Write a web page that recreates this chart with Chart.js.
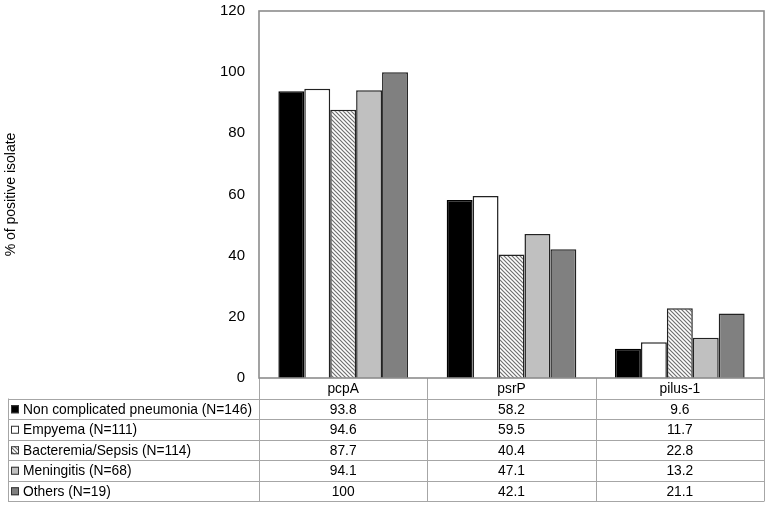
<!DOCTYPE html>
<html>
<head>
<meta charset="utf-8">
<script src="https://cdn.jsdelivr.net/npm/chart.js@4/dist/chart.umd.min.js"></script>
<style>
  html, body { margin: 0; padding: 0; background: #fff; overflow: hidden; }
  #wrap { width: 771px; height: 508px; overflow: hidden; }
  #myChart { margin-top: -12px; display: block; }
</style>
</head>
<body>
<div id="wrap"><canvas id="myChart" width="771" height="520"></canvas></div>
<script>
// data
const categories = ['pcpA', 'psrP', 'pilus-1'];
const seriesNames = [
  'Non complicated pneumonia (N=146)',
  'Empyema (N=111)',
  'Bacteremia/Sepsis (N=114)',
  'Meningitis (N=68)',
  'Others (N=19)',
];
const nonComplicated = [93.8, 58.2, 9.6];
const empyema = [94.6, 59.5, 11.7];
const bacteremia = [87.7, 40.4, 22.8];
const meningitis = [94.1, 47.1, 13.2];
const others = [100, 42.1, 21.1];
const yTicks = [0, 20, 40, 60, 80, 100, 120];

const FONT = '"Liberation Sans", Arial, sans-serif';

function hatchPattern() {
  const c = document.createElement('canvas');
  c.width = 4;
  c.height = 4;
  const g = c.getContext('2d');
  g.fillStyle = '#ffffff';
  g.fillRect(0, 0, 4, 4);
  g.strokeStyle = '#707070';
  g.lineWidth = 1.2;
  g.beginPath();
  g.moveTo(-1, -1);
  g.lineTo(5, 5);
  g.moveTo(-1, 3);
  g.lineTo(1, 5);
  g.moveTo(3, -1);
  g.lineTo(5, 1);
  g.stroke();
  return document.getElementById('myChart').getContext('2d').createPattern(c, 'repeat');
}
const hatch = hatchPattern();

const fills = ['#000000', '#ffffff', hatch, '#c0c0c0', '#808080'];
const allValues = [nonComplicated, empyema, bacteremia, meningitis, others];

// squeezed text, the reference font is a bit narrow
function narrowText(ctx, txt, x, y) {
  ctx.save();
  ctx.translate(x, y);
  ctx.scale(0.92, 1);
  ctx.fillText(txt, 0, 0);
  ctx.restore();
}

// plot border + data table under the plot
const tablePlugin = {
  id: 'tablePlugin',
  afterDraw(chart) {
    const ctx = chart.ctx;
    const area = chart.chartArea;
    const xs = chart.scales.x;
    const rowH = 20.5;
    const tableLeft = 8;
    const top = area.bottom;
    const bottom = top + rowH * 6;
    const catW = (area.right - area.left) / categories.length;

    ctx.save();
    // table grid
    ctx.strokeStyle = '#a6a6a6';
    ctx.lineWidth = 1;
    ctx.beginPath();
    for (let r = 1; r <= 6; r++) {
      const y = Math.round(top + rowH * r) + 0.5;
      ctx.moveTo(tableLeft, y);
      ctx.lineTo(area.right, y);
    }
    ctx.moveTo(tableLeft + 0.5, top + rowH);
    ctx.lineTo(tableLeft + 0.5, bottom);
    for (let c = 0; c <= categories.length; c++) {
      const x = Math.round(area.left + catW * c) + 0.5;
      ctx.moveTo(x, top);
      ctx.lineTo(x, bottom + 0.5);
    }
    ctx.stroke();

    // plot frame
    ctx.strokeStyle = '#8c8c8c';
    ctx.lineWidth = 1.6;
    ctx.strokeRect(area.left, area.top, area.right - area.left, area.bottom - area.top);

    // texts
    ctx.fillStyle = '#000';
    ctx.font = '15px ' + FONT;
    ctx.textBaseline = 'middle';
    ctx.textAlign = 'center';
    categories.forEach((cat, i) => {
      narrowText(ctx, cat, xs.getPixelForValue(i), top + rowH / 2 + 1);
    });
    allValues.forEach((vals, s) => {
      const yc = top + rowH * (s + 1) + rowH / 2 + 1;
      vals.forEach((v, i) => {
        narrowText(ctx, String(v), xs.getPixelForValue(i), yc);
      });
      // legend key
      ctx.fillStyle = fills[s];
      ctx.fillRect(11, yc - 4.5, 8, 8);
      ctx.strokeStyle = '#333';
      ctx.lineWidth = 1;
      ctx.strokeRect(11.5, yc - 4, 7, 7);
      ctx.fillStyle = '#000';
      ctx.textAlign = 'left';
      narrowText(ctx, seriesNames[s], 23, yc);
      ctx.textAlign = 'center';
    });
    ctx.restore();
  },
};

new Chart(document.getElementById('myChart'), {
  type: 'bar',
  data: {
    labels: categories,
    datasets: allValues.map((vals, s) => ({
      label: seriesNames[s],
      data: vals,
      backgroundColor: fills[s],
      borderColor: s === 0 ? '#000' : '#222',
      borderWidth: 1.5,
      categoryPercentage: 0.77,
      barPercentage: 1.0,
    })),
  },
  options: {
    responsive: false,
    animation: { duration: 0 },
    layout: { padding: { left: 0, top: 0, right: 7, bottom: 130 } },
    plugins: {
      legend: { display: false },
      tooltip: { enabled: false },
    },
    scales: {
      x: {
        display: false,
        grid: { display: false },
      },
      y: {
        min: 0,
        max: 120,
        afterFit(scale) { scale.width = 259; },
        afterBuildTicks(scale) { scale.ticks = yTicks.map((v) => ({ value: v })); },
        grid: { display: false, drawTicks: false },
        border: { display: false },
        ticks: {
          color: '#000',
          padding: 14,
          font: { family: FONT, size: 15 },
        },
        title: {
          display: true,
          text: '% of positive isolate',
          color: '#000',
          padding: { top: 3, bottom: 0 },
          font: { family: FONT, size: 14 },
        },
      },
    },
  },
  plugins: [tablePlugin],
});
</script>
</body>
</html>
